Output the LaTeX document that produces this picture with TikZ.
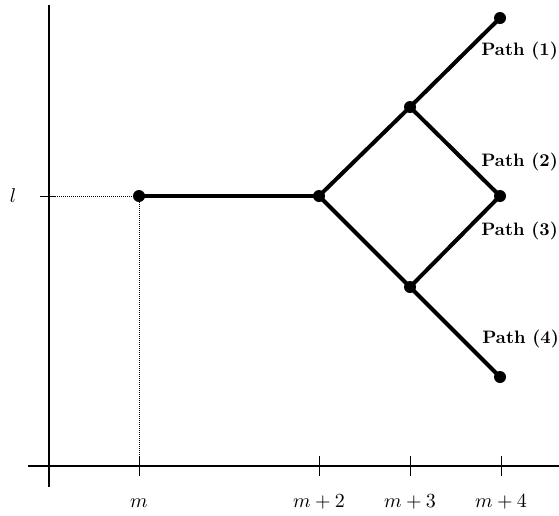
\documentclass[tikz,border=0pt]{standalone}
\begin{document}
\begin{tikzpicture}[x=1pt,y=-1pt,
  dot/.style={circle,fill=black,inner sep=0pt,minimum size=12pt},
  pathline/.style={line width=4pt},
  axis/.style={line width=1.8pt},
  guide/.style={densely dotted,line width=1pt},
  tick/.style={line width=1pt},
  pathlabel/.style={anchor=west,inner sep=0pt,scale=1.8,font=\bfseries},
  axlabel/.style={inner sep=0pt,scale=2}]
\useasboundingbox (0,0) rectangle (559,515);
% axes
\coordinate (ytop) at (49,5);
\coordinate (ybot) at (49,487);
\coordinate (xleft) at (28,466);
\coordinate (xright) at (559,466);
\draw[axis] (ytop) -- (ybot);
\draw[axis] (xleft) -- (xright);
% points
\node[dot] (p0) at (139,196) {};
\node[dot] (p1) at (319,196) {};
\node[dot] (p2) at (410,107) {};
\node[dot] (p3) at (500,18) {};
\node[dot] (p4) at (500,196) {};
\node[dot] (p5) at (410,287) {};
\node[dot] (p6) at (500,377) {};
% paths
\draw[pathline] (p0.center) -- (p1.center);
\draw[pathline] (p1.center) -- (p2.center) -- (p3.center);
\draw[pathline] (p2.center) -- (p4.center) -- (p5.center);
\draw[pathline] (p1.center) -- (p5.center) -- (p6.center);
% guides
\coordinate (lt) at (40,196);
\coordinate (lt2) at (55,196);
\coordinate (mx) at (139,466);
\draw[tick] (lt) -- (lt2);
\draw[guide] (lt2) -- (p0.center);
\draw[guide] (p0.center) -- (mx);
% ticks
\coordinate (t0a) at (139,456); \coordinate (t0b) at (139,476);
\coordinate (t2a) at (319,456); \coordinate (t2b) at (319,476);
\coordinate (t3a) at (410,456); \coordinate (t3b) at (410,476);
\coordinate (t4a) at (501,456); \coordinate (t4b) at (501,476);
\draw[tick] (t0a) -- (t0b);
\draw[tick] (t2a) -- (t2b);
\draw[tick] (t3a) -- (t3b);
\draw[tick] (t4a) -- (t4b);
% labels
\node[axlabel] (lm) at (139,503) {$m$};
\node[axlabel] (lm2) at (319,502) {$m+2$};
\node[axlabel] (lm3) at (410,502) {$m+3$};
\node[axlabel] (lm4) at (501,502) {$m+4$};
\node[axlabel] (ll) at (13,196) {$l$};
\node[pathlabel] (q1) at (481,51) {Path (1)};
\node[pathlabel] (q2) at (481,162) {Path (2)};
\node[pathlabel] (q3) at (481,231) {Path (3)};
\node[pathlabel] (q4) at (482,339) {Path (4)};
\end{tikzpicture}
\end{document}
